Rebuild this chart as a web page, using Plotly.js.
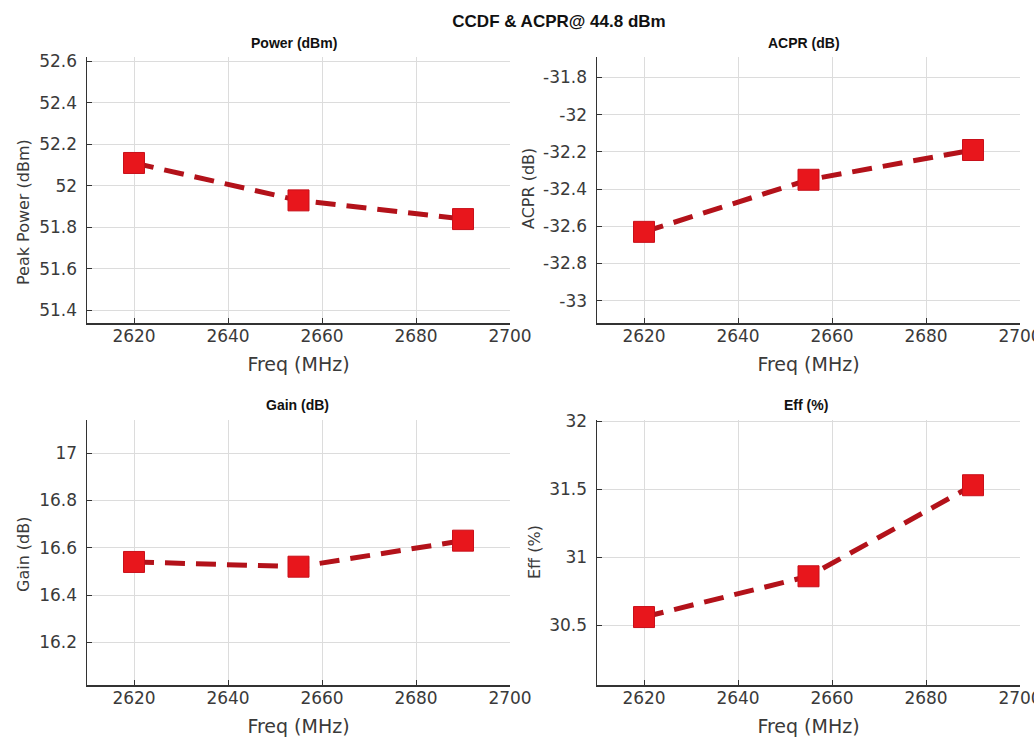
<!DOCTYPE html>
<html>
<head>
<meta charset="utf-8">
<script src="https://cdn.plot.ly/plotly-3.0.1.min.js"></script>
<style>html,body{margin:0;padding:0;background:#fff;}#chart{width:1034px;height:745px;}</style>
</head>
<body>
<div id="chart"></div>
<script>
// ---- data ----
const freq = [2620, 2655, 2690];
const peakPower = [52.11, 51.93, 51.84];
const acpr = [-32.63, -32.35, -32.19];
const gain = [16.54, 16.52, 16.63];
const eff = [30.56, 30.86, 31.53];

const freqTicks = [2620, 2640, 2660, 2680, 2700];
const powerTicks = [51.4, 51.6, 51.8, 52, 52.2, 52.4, 52.6];
const powerTickText = ["51.4", "51.6", "51.8", "52", "52.2", "52.4", "52.6"];
const acprTicks = [-33, -32.8, -32.6, -32.4, -32.2, -32, -31.8];
const acprTickText = ["-33", "-32.8", "-32.6", "-32.4", "-32.2", "-32", "-31.8"];
const gainTicks = [16.2, 16.4, 16.6, 16.8, 17];
const gainTickText = ["16.2", "16.4", "16.6", "16.8", "17"];
const effTicks = [30.5, 31, 31.5, 32];
const effTickText = ["30.5", "31", "31.5", "32"];

const titleMain = "CCDF & ACPR@ 44.8 dBm";
const subTitles = ["Power (dBm)", "ACPR (dB)", "Gain (dB)", "Eff (%)"];
const yTitles = ["Peak Power (dBm)", "ACPR (dB)", "Gain (dB)", "Eff (%)"];
const xTitle = "Freq (MHz)";

// ---- layout geometry ----
const W = 1034, H = 745;
const colX = [[87, 510], [597, 1020]];
const rowY = [[57, 323], [420, 685]];
const fx = p => p / W;
const fy = p => 1 - p / H;

const lineColor = '#b3121a';
const markerColor = '#e8161c';
const textColor = '#3a3a3a';

function trace(y, i) {
  return {
    x: freq, y: y, type: 'scatter', mode: 'lines+markers',
    xaxis: i === 0 ? 'x' : 'x' + (i + 1),
    yaxis: i === 0 ? 'y' : 'y' + (i + 1),
    line: {color: lineColor, width: 5, dash: '20px,11px'},
    marker: {symbol: 'square', size: 21, color: markerColor, line: {color: '#c8101a', width: 1}},
    showlegend: false, hoverinfo: 'x+y'
  };
}

const tickFont = {family: 'DejaVu Sans, sans-serif', size: 17, color: textColor};

function xaxis(col, row, anchor) {
  return {
    domain: [fx(colX[col][0]), fx(colX[col][1])],
    anchor: anchor,
    range: [2610, 2700],
    tickvals: freqTicks,
    ticktext: freqTicks.map(String),
    ticks: 'inside', ticklen: 5, tickcolor: '#333',
    ticklabelstandoff: -3, ticklabeloverflow: 'allow',
    showline: true, linecolor: '#333', linewidth: 1.5,
    showgrid: true, gridcolor: '#dcdcdc', gridwidth: 1,
    zeroline: false, tickfont: tickFont,
    title: {text: xTitle, font: {family: 'DejaVu Sans, sans-serif', size: 19, color: textColor}, standoff: 13},
    fixedrange: true
  };
}
function yaxis(col, row, anchor, range, tv, tt) {
  return {
    domain: [fy(rowY[row][1]), fy(rowY[row][0])],
    anchor: anchor,
    range: range,
    tickvals: tv, ticktext: tt,
    ticks: 'inside', ticklen: 5, tickcolor: '#333',
    ticklabelstandoff: 5,
    showline: true, linecolor: '#333', linewidth: 1.5,
    showgrid: true, gridcolor: '#dcdcdc', gridwidth: 1,
    zeroline: false, tickfont: tickFont,
    fixedrange: true
  };
}

const data = [trace(peakPower, 0), trace(acpr, 1), trace(gain, 2), trace(eff, 3)];

const subPos = [[294, 43], [804, 43], [297, 405], [806, 405]];
const annotations = subTitles.map((t, i) => ({
  text: '<b>' + t + '</b>', xref: 'paper', yref: 'paper',
  x: fx(subPos[i][0]), y: fy(subPos[i][1]), xanchor: 'center', yanchor: 'middle',
  showarrow: false, font: {family: 'Liberation Sans, Arial, sans-serif', size: 14, color: '#111'}
}));
// y-axis titles (placed as in the reference)
const yTitlePos = [[23, 212], [528, 189], [23, 554], [534, 552]];
yTitles.forEach((t, i) => annotations.push({
  text: t, xref: 'paper', yref: 'paper', textangle: -90,
  x: fx(yTitlePos[i][0]), y: fy(yTitlePos[i][1]), xanchor: 'center', yanchor: 'middle',
  showarrow: false, font: {family: 'DejaVu Sans, sans-serif', size: 16, color: textColor}
}));

const layout = {
  width: W, height: H,
  margin: {l: 0, r: 0, t: 0, b: 0},
  paper_bgcolor: '#fff', plot_bgcolor: '#fff',
  title: {text: '<b>' + titleMain + '</b>', x: fx(559), y: fy(21), xanchor: 'center', yanchor: 'middle',
          font: {family: 'Liberation Sans, Arial, sans-serif', size: 17, color: '#111'}},
  xaxis: xaxis(0, 0, 'y'),
  yaxis: yaxis(0, 0, 'x', [51.34, 52.62], powerTicks, powerTickText),
  xaxis2: xaxis(1, 0, 'y2'),
  yaxis2: yaxis(1, 0, 'x2', [-33.12, -31.69], acprTicks, acprTickText),
  xaxis3: xaxis(0, 1, 'y3'),
  yaxis3: yaxis(0, 1, 'x3', [16.02, 17.14], gainTicks, gainTickText),
  xaxis4: xaxis(1, 1, 'y4'),
  yaxis4: yaxis(1, 1, 'x4', [30.06, 32.01], effTicks, effTickText),
  annotations: annotations
};

Plotly.newPlot('chart', data, layout, {displayModeBar: false, staticPlot: true});
</script>
</body>
</html>
